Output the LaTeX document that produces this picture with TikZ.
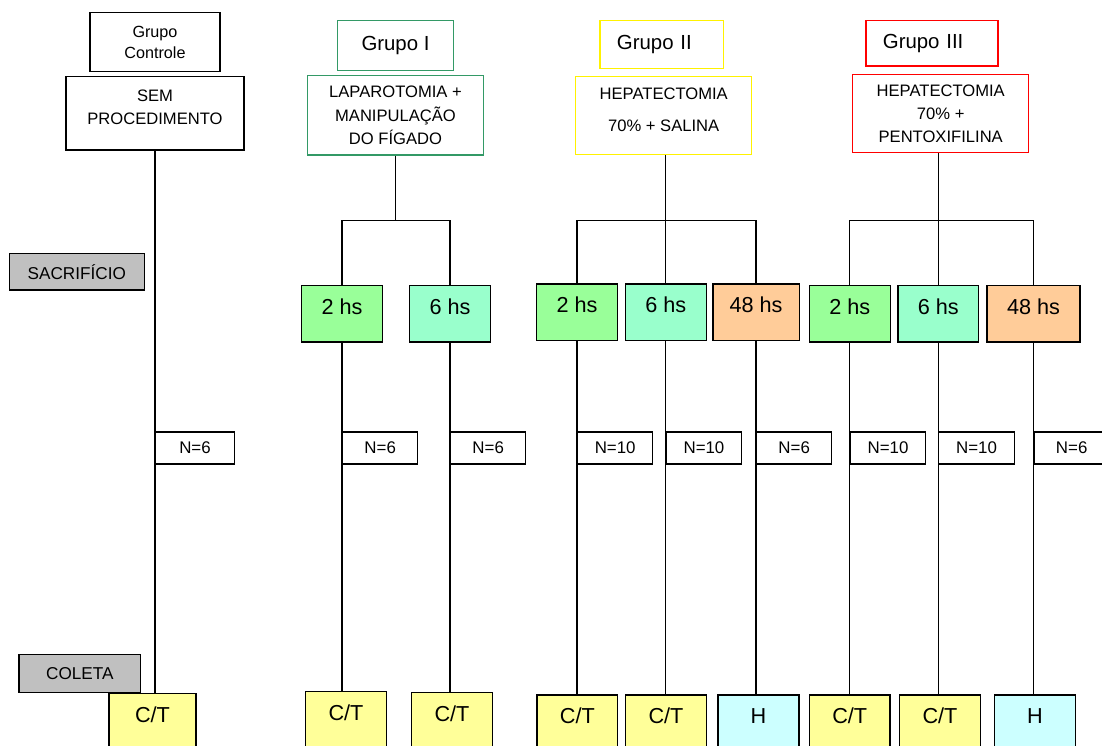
\documentclass[tikz,border=0pt]{standalone}
\usepackage{fontspec}
\setmainfont{Liberation Sans}
\usepackage{tikz}
\usetikzlibrary{positioning}

\definecolor{hsgreen}{HTML}{99FF99}
\definecolor{hsaqua}{HTML}{99FFCC}
\definecolor{hsorange}{HTML}{FFCC99}
\definecolor{ctyellow}{HTML}{FFFF99}
\definecolor{hcyan}{HTML}{CCFFFF}
\definecolor{grpgreen}{HTML}{339966}
\definecolor{phasegray}{HTML}{C0C0C0}

\begin{document}
\begin{tikzpicture}[
  x=0.025cm, y=-0.025cm,
  grp/.style={
    draw, line width=1pt, minimum height=1.2cm,
    font=\fontsize{14.5}{17}\selectfont
  },
  proc/.style={
    draw, line width=1pt,
    minimum width=4.4cm, minimum height=1.95cm,
    align=center, font=\fontsize{11.8}{16.5}\selectfont
  },
  phase/.style={draw, fill=phasegray, line width=1pt, font=\fontsize{12.2}{14}\selectfont},
  hsbox/.style={
    draw, line width=1pt,
    minimum width=2.02cm, minimum height=1.41cm,
    text height=0.38cm, text depth=0.35cm,
    font=\fontsize{15.4}{18}\selectfont
  },
  nbox/.style={
    draw, fill=white, line width=0.8pt, anchor=west,
    minimum width=1.88cm, minimum height=0.8cm,
    font=\fontsize{12}{14}\selectfont
  },
  conn/.style={line width=0.9pt}
]

\path[use as bounding box, clip] (0,0) rectangle (1102,745);

% 1. Grupo Controle
\node[grp, minimum width=3.25cm, minimum height=1.475cm, align=center,
  font=\fontsize{11.5}{15}\selectfont] (gctrl) at (155,42.2) {Grupo\\Controle};
\node[proc, minimum width=4.45cm, minimum height=1.83cm] (sem) at (155,113.3) {SEM\\PROCEDIMENTO\\[-8pt]\mbox{}};

% 2. Grupo I
\node[grp, draw=grpgreen, minimum width=2.89cm, minimum height=1.25cm] (g1) at (395.5,45.7) {Grupo I};
\node[proc, draw=grpgreen, minimum height=1.98cm] (lap) at (395.5,115.3) {LAPAROTOMIA +\\MANIPULAÇÃO\\DO FÍGADO};

% 3. Grupo II
\node[grp, draw=yellow, text width=2.235cm, inner xsep=0.425cm, minimum height=1.19cm] (g2) at (661.7,44.5) {Grupo II};
\node[proc, draw=yellow, minimum height=1.94cm] (hep2) at (663.7,115.5) {HEPATECTOMIA\\[6pt]70\% + SALINA\\[-8pt]\mbox{}};

% 4. Grupo III
\node[grp, draw=red, text width=2.455cm, inner xsep=0.425cm, minimum height=1.13cm] (g3) at (932,43.3) {Grupo III};
\node[proc, draw=red] (hep3) at (940.7,113.7) {HEPATECTOMIA\\70\% +\\PENTOXIFILINA};

% Phase labels
\node[phase, minimum width=3.375cm, minimum height=0.92cm] (sacr) at (76.8,271.7) {SACRIFÍCIO};
\node[phase, minimum width=3.04cm, minimum height=0.95cm] (coleta) at (79.8,673.3) {COLETA};

% Sacrifice times
\node[hsbox, fill=hsgreen] (t1a) at (342,313.8) {2 hs};
\node[hsbox, fill=hsaqua] (t1b) at (450,313.8) {6 hs};
\node[hsbox, fill=hsgreen] (t2a) at (577,312) {2 hs};
\node[hsbox, fill=hsaqua] (t2b) at (665.8,312) {6 hs};
\node[hsbox, fill=hsorange, minimum width=2.16cm] (t2c) at (756,312) {48 hs};
\node[hsbox, fill=hsgreen] (t3a) at (849.8,313.8) {2 hs};
\node[hsbox, fill=hsaqua] (t3b) at (938.3,313.8) {6 hs};
\node[hsbox, fill=hsorange, minimum width=2.325cm] (t3c) at (1033.5,313.8) {48 hs};

% Collected samples
\node[hsbox, fill=ctyellow, minimum width=2.175cm] (c0) at (152.5,721.5) {C/T};
\node[hsbox, fill=ctyellow] (c1a) at (346,719.9) {C/T};
\node[hsbox, fill=ctyellow] (c1b) at (452,720.9) {C/T};
\node[hsbox, fill=ctyellow] (c2a) at (577.3,723.2) {C/T};
\node[hsbox, fill=ctyellow] (c2b) at (666,723.2) {C/T};
\node[hsbox, fill=hcyan] (c2c) at (758.5,723.2) {H};
\node[hsbox, fill=ctyellow] (c3a) at (849.7,723.2) {C/T};
\node[hsbox, fill=ctyellow] (c3b) at (940,723.2) {C/T};
\node[hsbox, fill=hcyan] (c3c) at (1035,723.2) {H};

% Branch points
\coordinate (j1) at (lap.south |- 0,220.7);
\coordinate (j2) at (t2b.north |- 0,220.7);
\coordinate (j3) at (t3b.north |- 0,220.7);

% Group sizes
\node[nbox, minimum width=1.97cm] (n0) at (sem.south |- 0,448) {N=6};
\node[nbox] (n1a) at (t1a.south |- 0,448) {N=6};
\node[nbox] (n1b) at (t1b.south |- 0,448) {N=6};
\node[nbox] (n2a) at (t2a.south |- 0,448) {N=10};
\node[nbox] (n2b) at (t2b.south |- 0,448) {N=10};
\node[nbox] (n2c) at (t2c.south |- 0,448) {N=6};
\node[nbox] (n3a) at (t3a.south |- 0,448) {N=10};
\node[nbox] (n3b) at (t3b.south |- 0,448) {N=10};
\node[nbox] (n3c) at (t3c.south |- 0,448) {N=6};

% Arrows
\draw[conn] (sem.south) -- (sem.south |- c0.north);
\draw[conn] (lap.south) -- (j1) -| (t1a.north);
\draw[conn] (j1) -| (t1b.north);
\draw[conn] (hep2.south -| j2) -- (j2) -| (t2a.north);
\draw[conn] (j2) -- (t2b.north);
\draw[conn] (j2) -| (t2c.north);
\draw[conn] (hep3.south -| j3) -- (j3) -| (t3a.north);
\draw[conn] (j3) -- (t3b.north);
\draw[conn] (j3) -| (t3c.north);

\draw[conn] (t1a.south) -- (t1a.south |- c1a.north);
\draw[conn] (t1b.south) -- (t1b.south |- c1b.north);
\draw[conn] (t2a.south) -- (t2a.south |- c2a.north);
\draw[conn] (t2b.south) -- (t2b.south |- c2b.north);
\draw[conn] (t2c.south) -- (t2c.south |- c2c.north);
\draw[conn] (t3a.south) -- (t3a.south |- c3a.north);
\draw[conn] (t3b.south) -- (t3b.south |- c3b.north);
\draw[conn] (t3c.south) -- (t3c.south |- c3c.north);

\end{tikzpicture}
\end{document}
